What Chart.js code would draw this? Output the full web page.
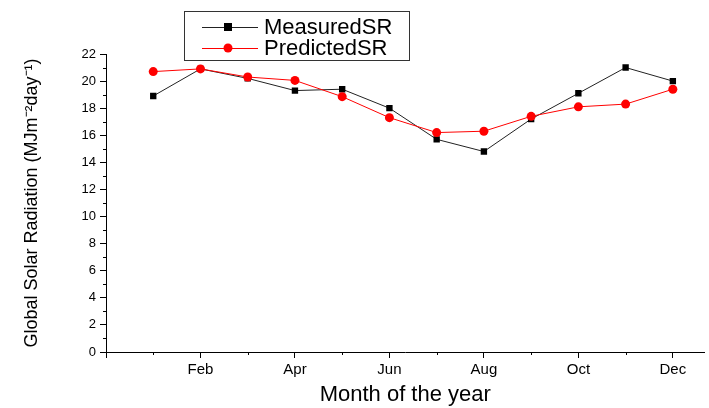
<!DOCTYPE html>
<html>
<head>
<meta charset="utf-8">
<script src="https://cdn.jsdelivr.net/npm/chart.js@4.4.1/dist/chart.umd.min.js"></script>
<style>
  html, body { margin: 0; padding: 0; background: #fff; }
  #wrap { width: 709px; height: 408px; }
</style>
</head>
<body>
<div id="wrap"><canvas id="myChart" width="709" height="408"></canvas></div>
<script>
// month position on the x axis (0 = axis origin)
const monthIndex = [1, 2, 3, 4, 5, 6, 7, 8, 9, 10, 11, 12];
const monthNames = ["Jan", "Feb", "Mar", "Apr", "May", "Jun", "Jul", "Aug", "Sep", "Oct", "Nov", "Dec"];
const measuredSR = [18.9, 20.9, 20.2, 19.3, 19.4, 18.0, 15.7, 14.8, 17.2, 19.1, 21.0, 20.0];
const predictedSR = [20.7, 20.9, 20.3, 20.05, 18.85, 17.3, 16.2, 16.3, 17.4, 18.1, 18.3, 19.4];

const FONT = "'Liberation Sans', Arial, sans-serif";

function toPoints(values) {
  return values.map((v, i) => ({ x: monthIndex[i], y: v }));
}

// minor ticks + boxed legend
const extras = {
  id: "extras",
  afterDraw(chart) {
    const ctx = chart.ctx;
    const xs = chart.scales.x, ys = chart.scales.y;
    ctx.save();
    ctx.strokeStyle = "#000";
    ctx.lineWidth = 1;
    ctx.beginPath();
    for (let v = 1; v < 22; v += 2) {
      const py = Math.round(ys.getPixelForValue(v)) + 0.5;
      ctx.moveTo(xs.left - 3, py);
      ctx.lineTo(xs.left, py);
    }
    for (let v = 1; v <= 11; v += 2) {
      const px = Math.round(xs.getPixelForValue(v)) + 0.5;
      ctx.moveTo(px, ys.bottom);
      ctx.lineTo(px, ys.bottom + 3);
    }
    ctx.stroke();

    // legend box
    ctx.strokeStyle = "#333";
    ctx.strokeRect(184.5, 11.5, 225, 49);
    const rows = [27, 48];
    chart.data.datasets.forEach((ds, i) => {
      const y = rows[i];
      ctx.strokeStyle = ds.borderColor;
      ctx.beginPath();
      ctx.moveTo(202, y + 0.5);
      ctx.lineTo(258, y + 0.5);
      ctx.stroke();
      ctx.fillStyle = ds.pointBackgroundColor;
      if (ds.pointStyle === "rect") {
        ctx.fillRect(224, y - 4, 8, 8);
      } else {
        ctx.beginPath();
        ctx.arc(228, y, 4.5, 0, Math.PI * 2);
        ctx.fill();
      }
      ctx.fillStyle = "#000";
      ctx.font = "22px " + FONT;
      ctx.textBaseline = "middle";
      ctx.fillText(ds.label, 264, y + 1);
    });
    ctx.restore();
  }
};

const config = {
  type: "line",
  data: {
    datasets: [
      {
        label: "MeasuredSR",
        data: toPoints(measuredSR),
        borderColor: "#222",
        borderWidth: 1,
        pointStyle: "rect",
        pointRadius: 4.5,
        pointBackgroundColor: "#000",
        pointBorderColor: "#000",
        pointBorderWidth: 0,
        order: 1
      },
      {
        label: "PredictedSR",
        data: toPoints(predictedSR),
        borderColor: "#ff0000",
        borderWidth: 1,
        pointStyle: "circle",
        pointRadius: 4.5,
        pointBackgroundColor: "#ff0000",
        pointBorderColor: "#ff0000",
        pointBorderWidth: 0,
        order: 0
      }
    ]
  },
  options: {
    responsive: false,
    animation: false,
    layout: { padding: { top: 54, right: 0, left: 0, bottom: 0 } },
    plugins: {
      legend: { display: false },
      tooltip: { enabled: false }
    },
    scales: {
      x: {
        type: "linear",
        min: 0,
        max: 12.67,
        afterBuildTicks: (scale) => {
          scale.ticks = [0, 2, 4, 6, 8, 10, 12].map(v => ({ value: v }));
        },
        afterFit: (scale) => { scale.height = 56; },
        ticks: {
          color: "#000",
          font: { family: FONT, size: 15 },
          padding: 3,
          maxRotation: 0,
          callback: (v) => (v > 0 ? monthNames[v - 1] : "")
        },
        grid: { display: true, drawOnChartArea: false, tickLength: 6, color: "#000" },
        border: { display: true, color: "#000", width: 1 },
        title: {
          display: true,
          text: "Month of the year",
          color: "#000",
          font: { family: FONT, size: 22 },
          padding: { top: 0, bottom: 0 }
        }
      },
      y: {
        min: 0,
        max: 22,
        afterFit: (scale) => { scale.width = 106; },
        ticks: {
          stepSize: 2,
          color: "#000",
          font: { family: FONT, size: 13 },
          padding: 4
        },
        grid: { display: true, drawOnChartArea: false, tickLength: 6, color: "#000" },
        border: { display: true, color: "#000", width: 1 },
        title: {
          display: true,
          text: "Global Solar Radiation (MJm\u207B\u00B2day\u207B\u00B9)",
          color: "#000",
          font: { family: FONT, size: 18 },
          padding: { top: 21, bottom: 0 }
        }
      }
    }
  },
  plugins: [extras]
};

const context = document.getElementById("myChart").getContext("2d");
const chart = new Chart(context, config);
</script>
</body>
</html>
